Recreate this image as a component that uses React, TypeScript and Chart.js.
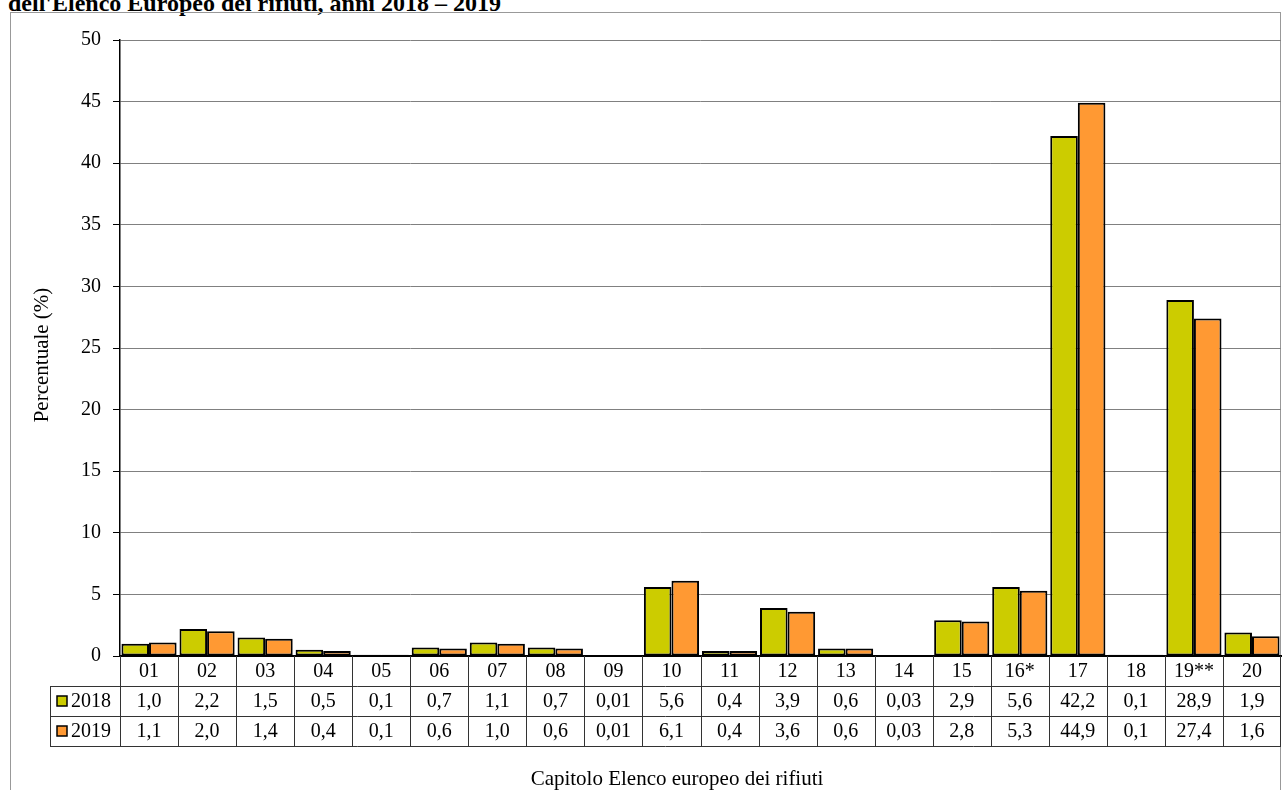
import React, { useEffect, useRef } from "react";
import { Chart, registerables } from "chart.js";

Chart.register(...registerables);

const titleText = "dell'Elenco Europeo dei rifiuti, anni 2018 – 2019";
const xAxisTitle = "Capitolo Elenco europeo dei rifiuti";
const yAxisTitle = "Percentuale (%)";

const categories = ["01", "02", "03", "04", "05", "06", "07", "08", "09", "10", "11", "12", "13", "14", "15", "16*", "17", "18", "19**", "20"];
const seriesLabels = ["2018", "2019"];
const values2018 = [1.0, 2.2, 1.5, 0.5, 0.1, 0.7, 1.1, 0.7, 0.01, 5.6, 0.4, 3.9, 0.6, 0.03, 2.9, 5.6, 42.2, 0.1, 28.9, 1.9];
const values2019 = [1.1, 2.0, 1.4, 0.4, 0.1, 0.6, 1.0, 0.6, 0.01, 6.1, 0.4, 3.6, 0.6, 0.03, 2.8, 5.3, 44.9, 0.1, 27.4, 1.6];
const seriesColors = ["#CCCC00", "#FF9933"];
const yMin = 0;
const yMax = 50;
const yStep = 5;

const FONT = "'Liberation Serif', 'Times New Roman', serif";

const fmt = (v: number) => (v < 0.1 ? v.toFixed(2) : v.toFixed(1)).replace(".", ",");

const tablePlugin = {
  id: "dataTable",
  afterDraw(chart: any) {
    const { ctx, chartArea, scales } = chart;
    const x = scales.x;
    const y0 = chartArea.bottom;
    const y1 = y0 + 30;
    const y2 = y1 + 30;
    const y3 = y2 + 30;
    const legendLeft = 50;
    const half = (x.getPixelForValue(1) - x.getPixelForValue(0)) / 2;
    const seriesValues = [values2018, values2019];

    ctx.save();
    ctx.strokeStyle = "#333333";
    ctx.lineWidth = 1;
    ctx.beginPath();
    [y1, y2, y3].forEach((yy) => {
      ctx.moveTo(legendLeft, Math.round(yy) + 0.5);
      ctx.lineTo(chartArea.right, Math.round(yy) + 0.5);
    });
    ctx.moveTo(legendLeft + 0.5, y1);
    ctx.lineTo(legendLeft + 0.5, y3);
    for (let i = 0; i <= categories.length; i++) {
      const px = i < categories.length ? x.getPixelForValue(i) - half : x.getPixelForValue(categories.length - 1) + half;
      const rx = Math.min(Math.round(px) + 0.5, chartArea.right - 0.5);
      ctx.moveTo(rx, y0);
      ctx.lineTo(rx, y3);
    }
    ctx.stroke();

    ctx.fillStyle = "#000";
    ctx.font = `20px ${FONT}`;
    ctx.textAlign = "center";
    ctx.textBaseline = "middle";
    categories.forEach((c, i) => {
      const cx = x.getPixelForValue(i);
      ctx.fillText(c, cx, (y0 + y1) / 2 + 1);
      ctx.fillText(fmt(seriesValues[0][i]), cx, (y1 + y2) / 2 + 1);
      ctx.fillText(fmt(seriesValues[1][i]), cx, (y2 + y3) / 2 + 1);
    });

    const rows = [(y1 + y2) / 2, (y2 + y3) / 2];
    rows.forEach((cy, k) => {
      ctx.fillStyle = seriesColors[k];
      ctx.fillRect(57, cy - 5, 10, 10);
      ctx.strokeStyle = "#000";
      ctx.lineWidth = 1.5;
      ctx.strokeRect(57, cy - 5, 10, 10);
      ctx.fillStyle = "#000";
      ctx.textAlign = "left";
      ctx.fillText(seriesLabels[k], 71, cy + 1);
    });

    // x axis title
    ctx.textAlign = "center";
    ctx.font = `21px ${FONT}`;
    ctx.fillText(xAxisTitle, 677, 779);

    // y axis title
    ctx.translate(42, 355);
    ctx.rotate(-Math.PI / 2);
    ctx.font = `21px ${FONT}`;
    ctx.fillText(yAxisTitle, 0, 0);
    ctx.restore();
  },
};

export default function App() {
  const canvasRef = useRef<HTMLCanvasElement>(null);

  useEffect(() => {
    const canvas = canvasRef.current;
    if (!canvas) return;
    const chart = new Chart(canvas, {
      type: "bar",
      data: {
        labels: categories,
        datasets: [
          {
            label: seriesLabels[0],
            data: values2018,
            backgroundColor: seriesColors[0],
            borderColor: "#000",
            borderWidth: 2,
            borderSkipped: false,
          },
          {
            label: seriesLabels[1],
            data: values2019,
            backgroundColor: seriesColors[1],
            borderColor: "#000",
            borderWidth: 2,
            borderSkipped: false,
          },
        ],
      },
      options: {
        responsive: false,
        animation: false,
        events: [],
        layout: { padding: { left: 0, right: 2, top: 40, bottom: 0 } },
        plugins: {
          legend: { display: false },
          title: { display: false },
          tooltip: { enabled: false },
        },
        datasets: {
          bar: { categoryPercentage: 0.95, barPercentage: 1 },
        },
        scales: {
          x: {
            type: "category",
            grid: { display: false, drawTicks: false },
            border: { color: "#000", width: 2 },
            ticks: { display: false },
            afterFit: (scale: any) => {
              scale.height = 134;
            },
          },
          y: {
            min: yMin,
            max: yMax,
            ticks: {
              stepSize: yStep,
              color: "#000",
              font: { family: FONT, size: 20 },
              padding: 12,
            },
            grid: { color: "#808080", lineWidth: 1, tickColor: "#000", tickLength: 7 },
            border: { color: "#000", width: 1.5 },
            title: { display: false },
            afterFit: (scale: any) => {
              scale.width = 120;
            },
          },
        },
      },
      plugins: [tablePlugin],
    });
    return () => chart.destroy();
  }, []);

  return (
    <div style={{ position: "fixed", left: 0, top: 0, width: 1283, height: 790, overflow: "hidden", background: "#fff" }}>
      <div
        style={{
          position: "absolute",
          left: 8,
          top: -10,
          fontFamily: FONT,
          fontWeight: "bold",
          fontSize: 24,
          whiteSpace: "nowrap",
          color: "#000",
        }}
      >
        {titleText}
      </div>
      <div
        style={{
          position: "absolute",
          left: 10,
          top: 12,
          width: 1271,
          height: 800,
          border: "1px solid #999",
          boxSizing: "border-box",
        }}
      />
      <canvas ref={canvasRef} width={1283} height={790} style={{ position: "absolute", left: 0, top: 0 }} />
    </div>
  );
}
